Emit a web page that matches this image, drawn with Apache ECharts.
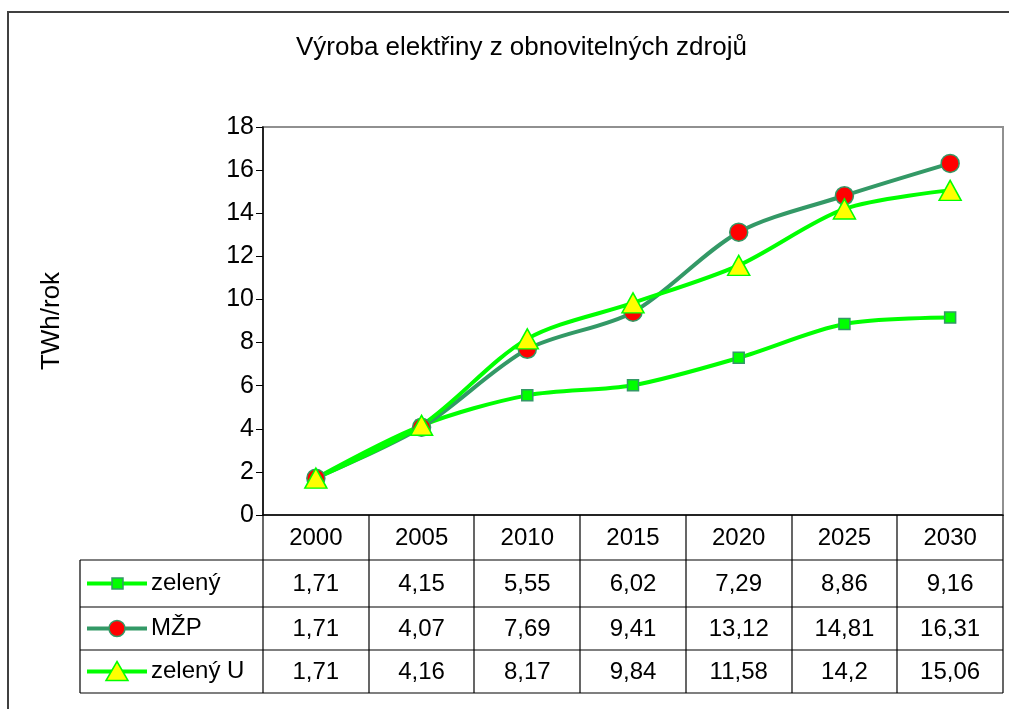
<!DOCTYPE html>
<html>
<head>
<meta charset="utf-8">
<script src="https://cdn.jsdelivr.net/npm/echarts@6/dist/echarts.min.js"></script>
<style>
  html, body { margin: 0; padding: 0; background: #fff; }
  #chart { width: 1009px; height: 709px; }
</style>
</head>
<body>
<div id="chart"></div>
<script>
// data
var years = ['2000', '2005', '2010', '2015', '2020', '2025', '2030'];
var zeleny = [1.71, 4.15, 5.55, 6.02, 7.29, 8.86, 9.16];
var mzp = [1.71, 4.07, 7.69, 9.41, 13.12, 14.81, 16.31];
var zelenyU = [1.71, 4.16, 8.17, 9.84, 11.58, 14.2, 15.06];
var seriesNames = ['zelený', 'MŽP', 'zelený U'];
var yTicks = [0, 2, 4, 6, 8, 10, 12, 14, 16, 18];

var FONT = '"Liberation Sans", Arial, sans-serif';
var LIME = '#00ff00';
var SEA = '#339966';

var chart = echarts.init(document.getElementById('chart'));

function fmt(v) { return String(v).replace('.', ','); }

var option = {
    animation: false,
    backgroundColor: '#fff',
    textStyle: { fontFamily: FONT },
    title: {
        text: 'Výroba elektřiny z obnovitelných zdrojů',
        left: 291, top: 30,
        textStyle: { fontFamily: FONT, fontSize: 26, fontWeight: 'normal', color: '#000' }
    },
    grid: {
        left: 263, top: 127, width: 740, height: 388,
        show: true, borderColor: '#909090', borderWidth: 2, backgroundColor: '#fff'
    },
    xAxis: {
        type: 'category', data: years, boundaryGap: true,
        axisLine: { lineStyle: { color: '#000', width: 1.5 } },
        axisTick: { show: false },
        axisLabel: { fontSize: 24, color: '#000', margin: 11, fontFamily: FONT }
    },
    yAxis: {
        type: 'value', min: yTicks[0], max: yTicks[yTicks.length - 1], interval: 2,
        name: 'TWh/rok', nameLocation: 'middle', nameGap: 198, nameRotate: 90,
        nameTextStyle: { fontSize: 26, color: '#000', fontFamily: FONT },
        axisLine: { show: true, lineStyle: { color: '#000', width: 1.5 } },
        axisTick: { show: true, length: 7, lineStyle: { color: '#000' } },
        axisLabel: { fontSize: 25, color: '#000', margin: 9, fontFamily: FONT },
        splitLine: { show: false }
    },
    series: [
        {
            name: seriesNames[0], type: 'line', data: zeleny, smooth: 0.3,
            lineStyle: { color: LIME, width: 4 },
            symbol: 'rect', symbolSize: 11,
            itemStyle: { color: LIME, borderColor: SEA, borderWidth: 1.5 }
        },
        {
            name: seriesNames[1], type: 'line', data: mzp, smooth: 0.3,
            lineStyle: { color: SEA, width: 4 },
            symbol: 'circle', symbolSize: 18,
            itemStyle: { color: '#ff0000', borderColor: SEA, borderWidth: 1.5 }
        },
        {
            name: seriesNames[2], type: 'line', data: zelenyU, smooth: 0.3,
            lineStyle: { color: LIME, width: 4 },
            symbol: 'triangle', symbolSize: [22, 20],
            itemStyle: { color: '#ffff00', borderColor: LIME, borderWidth: 1.5 }
        }
    ]
};
chart.setOption(option);

// data table under the plot
var rows = [zeleny, mzp, zelenyU];
var tableLeft = 80;
var gridLeft = 263, gridRight = 1003, gridBottom = 515;
var rowLines = [560, 607, 650, 693];
var step = (gridRight - gridLeft) / years.length;
var g = [];
var lineStyle = { stroke: '#000', lineWidth: 1.2 };
var tableFont = '24px ' + FONT;

// outer chart frame
g.push({ type: 'rect', shape: { x: 8, y: 12, width: 1010, height: 710 },
    style: { fill: null, stroke: '#404040', lineWidth: 2 }, z: 0, silent: true });

rowLines.forEach(function (y) {
    g.push({ type: 'line', shape: { x1: tableLeft, y1: y, x2: gridRight, y2: y }, style: lineStyle });
});
g.push({ type: 'line', shape: { x1: tableLeft, y1: rowLines[0], x2: tableLeft, y2: rowLines[3] }, style: lineStyle });
for (var i = 0; i <= years.length; i++) {
    var bx = Math.round(gridLeft + i * step);
    g.push({ type: 'line', shape: { x1: bx, y1: gridBottom, x2: bx, y2: rowLines[3] }, style: lineStyle });
}

var keyColors = [LIME, SEA, LIME];
rows.forEach(function (vals, r) {
    var cy = (rowLines[r] + rowLines[r + 1]) / 2;
    // legend key
    g.push({ type: 'line', shape: { x1: 87, y1: cy, x2: 147, y2: cy }, style: { stroke: keyColors[r], lineWidth: 4 } });
    if (r === 0) {
        g.push({ type: 'rect', shape: { x: 112, y: cy - 5.5, width: 11, height: 11 },
            style: { fill: LIME, stroke: SEA, lineWidth: 1.5 } });
    } else if (r === 1) {
        g.push({ type: 'circle', shape: { cx: 117, cy: cy, r: 8 },
            style: { fill: '#ff0000', stroke: SEA, lineWidth: 1.5 } });
    } else {
        g.push({ type: 'polygon', shape: { points: [[117, cy - 10], [128, cy + 9], [106, cy + 9]] },
            style: { fill: '#ffff00', stroke: LIME, lineWidth: 1.5 } });
    }
    g.push({ type: 'text', x: 151, y: cy,
        style: { text: seriesNames[r], font: tableFont, fill: '#000', verticalAlign: 'middle', align: 'left' } });
    vals.forEach(function (v, c) {
        var cx = chart.convertToPixel({ xAxisIndex: 0 }, years[c]);
        g.push({ type: 'text', x: cx, y: cy + 1,
            style: { text: fmt(v), font: tableFont, fill: '#000', align: 'center', verticalAlign: 'middle' } });
    });
});

chart.setOption({ graphic: { elements: g } });
</script>
</body>
</html>
